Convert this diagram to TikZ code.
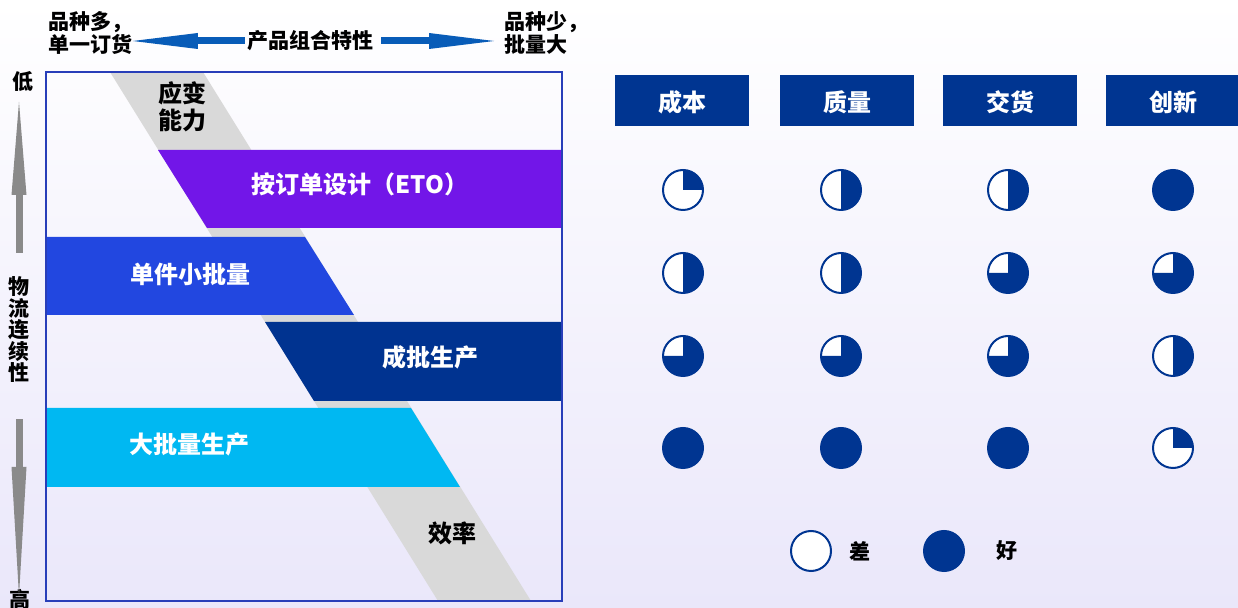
\documentclass[tikz,border=0pt]{standalone}
\usepackage{fontspec}
\setmainfont{Noto Sans CJK SC}
\usetikzlibrary{arrows.meta}
\definecolor{navy}{RGB}{0,53,145}
\definecolor{framebl}{RGB}{40,62,185}
\definecolor{etopurple}{RGB}{114,22,232}
\definecolor{jobblue}{RGB}{34,71,224}
\definecolor{batchnavy}{RGB}{0,51,144}
\definecolor{masscyan}{RGB}{0,184,242}
\definecolor{stripgray}{RGB}{217,217,217}
\definecolor{arrowblue}{RGB}{8,92,184}
\definecolor{arrowgray}{RGB}{138,138,138}
\definecolor{bglav}{RGB}{234,231,250}
\tikzset{
  bandtext/.style={text=white, font=\fontsize{12}{14}\selectfont\bfseries},
  striptext/.style={text=black, align=center, font=\fontsize{12}{13.5}\selectfont\bfseries},
  sidetext/.style={inner sep=0pt, align=left, font=\fontsize{10.5}{11.5}\selectfont\bfseries},
  axistext/.style={inner sep=0pt, align=center, font=\fontsize{10.5}{10.75}\selectfont\bfseries},
  header/.style={
    rectangle, fill=navy, text=white, minimum width=67pt, minimum height=25.5pt,
    text depth=-3pt, font=\fontsize{12}{14}\selectfont\bfseries
  },
  harrow/.style={
    -{Triangle[length=32.5pt,width=8pt,line width=0pt]}, line width=3.5pt, color=arrowblue
  },
  uparrow/.style={
    -{Triangle[length=46.5pt,width=7.5pt,line width=0pt]}, line width=3.5pt, color=arrowgray
  },
  downarrow/.style={
    -{Triangle[length=64.5pt,width=7.5pt,line width=0pt]}, line width=3.5pt, color=arrowgray
  }
}
% Harvey ball: x, y, filled quarters (0-4)
\newcommand{\hball}[3]{%
  \fill[white] (#1,#2) circle[radius=20];
  \ifnum#3>0
    \fill[navy] (#1,#2) -- ++(-90:20) arc[start angle=-90, delta angle=90*#3, radius=20] -- cycle;
  \fi
  \draw[navy, line width=1pt] (#1,#2) circle[radius=20];
}

\begin{document}
\begin{tikzpicture}[x=0.5pt, y=-0.5pt]
      % Background
      \shade[top color=white, bottom color=bglav] (0,0) rectangle (1238,608);
      \useasboundingbox (0,0) rectangle (1238,608);

      % Product mix axis
      \node[axistext] (title) at (310,41) {产品组合特性};
      \node[sidetext, anchor=west] (many) at (48,33) {品种多，\\单一订货};
      \node[sidetext, anchor=west] (few) at (504,33) {品种少，\\批量大};
      \draw[harrow, shorten <=1pt] (title.west) -- (many.east |- title.west);
      \draw[harrow, shorten <=4pt, shorten >=5pt] (title.east) -- (few.west |- title.east);

      % Flow continuity axis
      \node[axistext] (low) at (23,82) {低};
      \node[axistext] (high) at (20,599) {高};
      \node[axistext] (flow) at (19,330) {物\\流\\连\\续\\性};
      \coordinate (uptip) at (19,102);
      \coordinate (downtip) at (19,596);
      \draw[uparrow, shorten <=12pt] (flow.north) -- (uptip);
      \draw[downarrow, shorten <=18pt] (flow.south) -- (downtip);

      % Gray strip
      \fill[stripgray] (110,72) -- (203,72) -- (531,601) -- (438,601) -- cycle;

      % Process bands
      \fill[etopurple] (158,150) -- (562,150) -- (562,228) -- (207,228) -- cycle;
      \fill[jobblue] (46,237) -- (305,237) -- (354,315) -- (46,315) -- cycle;
      \fill[batchnavy] (265,322) -- (562,322) -- (562,401) -- (314,401) -- cycle;
      \fill[masscyan] (46,408) -- (411,408) -- (460,487) -- (46,487) -- cycle;

      % Frame
      \draw[framebl, line width=1pt] (46,72) rectangle (562,601);

      % Band labels
      \node[striptext] (flex) at (182,107) {应变\\能力};
      \node[bandtext] (eto) at (360,184) {按订单设计（ETO）};
      \node[bandtext] (job) at (190,274) {单件小批量};
      \node[bandtext] (batch) at (430,357) {成批生产};
      \node[bandtext] (mass) at (189,444) {大批量生产};
      \node[striptext] (eff) at (452,533) {效率};

      % Criteria
      \node[header] (cost) at (682,101) {成本};
      \node[header] (quality) at (847,101) {质量};
      \node[header] (delivery) at (1010,101) {交货};
      \node[header] (innov) at (1173,101) {创新};

      % Ratings
      \hball{683}{190}{1} \hball{841}{190}{2} \hball{1008}{190}{2} \hball{1173}{190}{4}
      \hball{683}{273}{2} \hball{841}{273}{2} \hball{1008}{273}{3} \hball{1173}{273}{3}
      \hball{683}{356}{3} \hball{841}{356}{3} \hball{1008}{356}{3} \hball{1173}{356}{2}
      \hball{683}{448}{4} \hball{841}{448}{4} \hball{1008}{448}{4} \hball{1173}{448}{1}

      % Legend
      \hball{811}{551}{0}
      \node[axistext] (bad) at (860,551) {差};
      \hball{944}{551}{4}
      \node[axistext] (good) at (1007,551) {好};
    \end{tikzpicture}
\end{document}
